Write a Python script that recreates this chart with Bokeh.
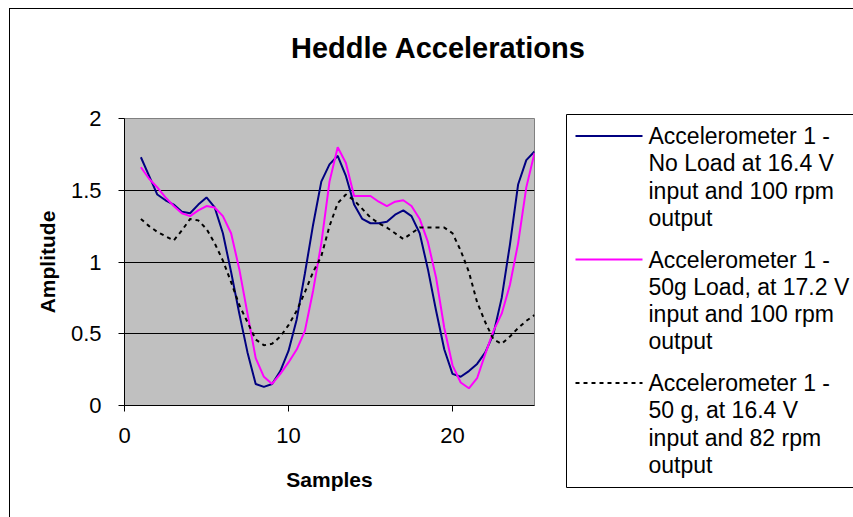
from bokeh.plotting import figure
from bokeh.layouts import column, row
from bokeh.models import Range1d, FixedTicker, NumeralTickFormatter
from bokeh.core.properties import value
from bokeh.embed import file_html
from bokeh.resources import INLINE

samples = [1, 1.5, 2, 2.5, 3, 3.5, 4, 4.5, 5, 5.5, 6, 6.5, 7, 7.5, 8, 8.5, 9, 9.5,
           10, 10.5, 11, 11.5, 12, 12.5, 13, 13.5, 14, 14.5, 15, 15.5, 16, 16.5,
           17, 17.5, 18, 18.5, 19, 19.5, 20, 20.5, 21, 21.5, 22, 22.5, 23, 23.5,
           24, 24.5, 25]

no_load_164v_100rpm = [1.73, 1.60, 1.47, 1.43, 1.40, 1.35, 1.34, 1.40, 1.45, 1.38,
                       1.20, 0.93, 0.64, 0.37, 0.15, 0.13, 0.15, 0.24, 0.38, 0.60,
                       0.92, 1.26, 1.56, 1.68, 1.74, 1.60, 1.40, 1.30, 1.27, 1.27,
                       1.28, 1.33, 1.36, 1.32, 1.20, 0.95, 0.66, 0.39, 0.22, 0.20,
                       0.24, 0.29, 0.37, 0.50, 0.75, 1.12, 1.54, 1.71, 1.77]

load50g_172v_100rpm = [1.66, 1.58, 1.52, 1.45, 1.39, 1.34, 1.32, 1.36, 1.39, 1.38,
                       1.32, 1.20, 0.95, 0.64, 0.33, 0.20, 0.15, 0.22, 0.30, 0.39,
                       0.52, 0.80, 1.13, 1.56, 1.80, 1.69, 1.46, 1.46, 1.46, 1.42,
                       1.39, 1.42, 1.43, 1.39, 1.30, 1.14, 0.89, 0.54, 0.28, 0.16,
                       0.12, 0.19, 0.36, 0.52, 0.64, 0.84, 1.13, 1.52, 1.76]

load50g_164v_82rpm = [1.30, 1.25, 1.21, 1.18, 1.15, 1.22, 1.30, 1.29, 1.23, 1.13,
                      1.01, 0.86, 0.70, 0.58, 0.46, 0.42, 0.43, 0.48, 0.56, 0.66,
                      0.79, 0.93, 1.04, 1.25, 1.41, 1.47, 1.43, 1.37, 1.31, 1.27,
                      1.24, 1.20, 1.16, 1.20, 1.24, 1.24, 1.24, 1.24, 1.20, 1.08,
                      0.93, 0.72, 0.58, 0.46, 0.43, 0.48, 0.54, 0.59, 0.63]

series_labels = [
    ["Accelerometer 1 -", "No Load at 16.4 V", "input and 100 rpm", "output"],
    ["Accelerometer 1 -", "50g Load, at 17.2 V", "input and 100 rpm", "output"],
    ["Accelerometer 1 -", "50 g, at 16.4 V", "input and 82 rpm", "output"],
]
series_colors = ["#000080", "#FF00FF", "black"]
series_dashes = ["solid", "solid", "4 4"]
chart_title = "Heddle Accelerations"
x_ticks = [0, 10, 20]
y_ticks = [0, 0.5, 1, 1.5, 2]

FONT = "Liberation Sans"
BORDER = "1px solid black"


def no_align(fig):
    try:
        fig.frame_align = False
    except Exception:
        pass


# ---------------- title strip ----------------
TW, TH = 844, 92
tfig = figure(width=TW, height=TH, output_backend="svg", toolbar_location=None,
              x_range=Range1d(0, TW), y_range=Range1d(TH, 0),
              x_axis_type=None, y_axis_type=None,
              min_border=0, min_border_left=0, min_border_right=0,
              min_border_top=0, min_border_bottom=0)
tfig.margin = (8, 0, 0, 9)
tfig.outline_line_color = None
tfig.grid.visible = False
tfig.styles = {"border-left": BORDER, "border-top": BORDER, "box-sizing": "border-box"}
tfig.text(x=[428], y=[38], text=[chart_title], text_font=value(FONT),
          text_font_size="29px", text_font_style="bold", text_color="black",
          text_align="center", text_baseline="middle")
no_align(tfig)

# ---------------- main chart ----------------
p = figure(width=544, height=417, output_backend="svg", toolbar_location=None,
           x_range=Range1d(0, 25), y_range=Range1d(0, 2),
           min_border_left=114, min_border_right=20,
           min_border_top=18, min_border_bottom=112,
           background_fill_color="#C0C0C0", border_fill_color="white")
p.margin = (0, 0, 0, 9)
p.styles = {"border-left": BORDER, "box-sizing": "border-box"}
no_align(p)

p.outline_line_color = "#808080"
p.outline_line_width = 1

p.xgrid.visible = False
p.ygrid.grid_line_color = "black"
p.ygrid.grid_line_width = 1

p.xaxis.ticker = FixedTicker(ticks=x_ticks)
p.yaxis.ticker = FixedTicker(ticks=y_ticks)
p.yaxis.formatter = NumeralTickFormatter(format="0.[0]")
p.xaxis.formatter = NumeralTickFormatter(format="0")
for ax in (p.xaxis, p.yaxis):
    ax.axis_line_color = "black"
    ax.major_tick_line_color = "black"
    ax.major_tick_in = 0
    ax.major_tick_out = 6
    ax.minor_tick_line_color = None
    ax.major_label_text_font = FONT
    ax.major_label_text_font_size = "22px"
    ax.major_label_text_color = "black"
    ax.axis_label_text_font = FONT
    ax.axis_label_text_font_size = "21px"
    ax.axis_label_text_font_style = "bold"
    ax.axis_label_text_color = "black"
p.xaxis.axis_label = "Samples"
p.yaxis.axis_label = "Amplitude"
p.xaxis.major_label_standoff = 16
p.yaxis.major_label_standoff = 17
p.xaxis.axis_label_standoff = 22
p.yaxis.axis_label_standoff = 9

series = [no_load_164v_100rpm, load50g_172v_100rpm, load50g_164v_82rpm]
for vals, col, dash in zip(series, series_colors, series_dashes):
    p.line(samples, vals, line_color=col, line_width=2, line_dash=dash)

# ---------------- legend panel ----------------
LW, LH = 300, 417
lfig = figure(width=LW, height=LH, output_backend="svg", toolbar_location=None,
              x_range=Range1d(0, LW), y_range=Range1d(LH, 0),
              x_axis_type=None, y_axis_type=None,
              min_border=0, min_border_left=0, min_border_right=0,
              min_border_top=0, min_border_bottom=0)
lfig.outline_line_color = None
lfig.grid.visible = False
no_align(lfig)

box_left, box_right, box_top, box_bottom = 13, 320, 14, 387
lfig.quad(left=[box_left], right=[box_right], top=[box_top], bottom=[box_bottom],
          fill_color="white", line_color="black", line_width=1)

first_line = 35.5
line_step = 27.3
item_step = 123.5
glyph_x0, glyph_x1, text_x = 22, 89, 95
for i, (lines, col, dash) in enumerate(zip(series_labels, series_colors, series_dashes)):
    y0 = first_line + i * item_step
    lfig.line([glyph_x0, glyph_x1], [y0, y0], line_color=col, line_width=2,
              line_dash=dash)
    ys = [y0 + k * line_step for k in range(len(lines))]
    lfig.text(x=[text_x] * len(lines), y=ys, text=lines, text_font=value(FONT),
              text_font_size="23px", text_color="black",
              text_align="left", text_baseline="middle")

layout = column(tfig, row(p, lfig))
open("out.html", "w").write(file_html(layout, INLINE))
